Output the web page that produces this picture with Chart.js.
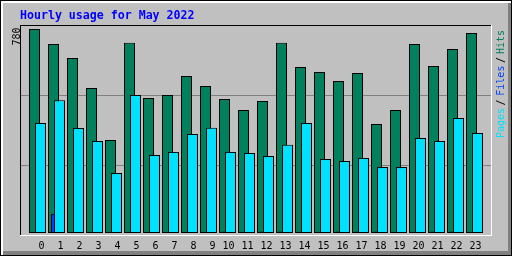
<!DOCTYPE html>
<html>
<head>
<meta charset="utf-8">
<script src="https://cdn.jsdelivr.net/npm/chart.js@4.4.1/dist/chart.umd.min.js"></script>
<style>
html, body { margin: 0; padding: 0; background: #C0C0C0; }
canvas { display: block; }
</style>
</head>
<body>
<canvas id="c" width="512" height="256"></canvas>
<script>
// ---- data ----
const chartTitle = 'Hourly usage for May 2022';
const hours = ['0','1','2','3','4','5','6','7','8','9','10','11','12','13','14','15','16','17','18','19','20','21','22','23'];
const hits  = [780,723,669,554,356,727,516,528,600,562,512,470,505,727,635,616,581,612,417,470,723,639,704,765];
const files = [2,73,2,2,2,2,2,2,2,2,6,2,6,6,2,2,6,6,6,2,2,6,6,2];
const pages = [421,508,401,352,229,528,298,310,379,402,310,306,294,337,421,283,275,287,252,252,363,352,440,382];
const yTickLabels = ['780'];
const seriesNames = ['Pages', 'Files', 'Hits'];

// ---- style / layout ----
const COLORS = { bg: '#C0C0C0', hits: '#00805C', files: '#0040FF', pages: '#00E0FF', grid: '#808080', dark: '#808080', title: '#0000FF' };
const PLOT = { left: 20, right: 492, top: 25, bottom: 236 };
const BAR_BASE_PX = 233, BAR_TOP_PX = 29;   // where 0 and the max label sit
const PX_PER_HOUR = 19, FIRST_CENTER = 34.5, BAR_W = 11;
const OFFSETS = { hits: 0, files: 3, pages: 6 };

const yMax = Number(yTickLabels[0]);
const pxPerUnit = (BAR_BASE_PX - BAR_TOP_PX) / yMax;
const yMin = -(PLOT.bottom - BAR_BASE_PX) / pxPerUnit;
const yTop = yMax + (BAR_TOP_PX - PLOT.top) / pxPerUnit;
const hourSpan = (PLOT.right - PLOT.left) / PX_PER_HOUR;
function xRange(off) {
  const min = -(FIRST_CENTER + off - PLOT.left) / PX_PER_HOUR;
  return { min, max: min + hourSpan };
}

const monoSmall = { family: "'DejaVu Sans Mono', monospace", size: 10 };

function barSet(label, values, color, axisId) {
  return {
    label,
    data: values.map((v, i) => ({ x: i, y: v })),
    backgroundColor: color,
    borderColor: '#000000',
    borderWidth: 1,
    borderSkipped: false,
    inflateAmount: 0,
    grouped: false,
    barThickness: BAR_W,
    maxBarThickness: BAR_W,
    xAxisID: axisId,
  };
}

const framePlugin = {
  id: 'frame',
  beforeDraw(chart) {
    const ctx = chart.ctx, W = chart.width, H = chart.height;
    ctx.save();
    ctx.fillStyle = COLORS.bg;
    ctx.fillRect(0, 0, W, H);
    ctx.fillStyle = '#FFFFFF';
    ctx.fillRect(1, 1, W - 2, 2);
    ctx.fillRect(1, 1, 2, H - 2);
    ctx.fillStyle = COLORS.dark;
    ctx.fillRect(3, H - 5, W - 4, 4);
    ctx.fillRect(W - 4, 3, 3, H - 4);
    ctx.strokeStyle = '#000000';
    ctx.lineWidth = 1;
    ctx.strokeRect(0.5, 0.5, W - 1, H - 1);
    ctx.restore();
  },
  beforeDatasetsDraw(chart) {
    const ctx = chart.ctx, a = chart.chartArea;
    ctx.save();
    ctx.fillStyle = '#000000';
    ctx.fillRect(a.left, a.top, a.right - a.left, 1);
    ctx.fillRect(a.left, a.top, 1, a.bottom - a.top);
    ctx.fillStyle = '#FFFFFF';
    ctx.fillRect(a.left, a.bottom - 1, a.right - a.left, 1);
    ctx.fillRect(a.right - 1, a.top, 1, a.bottom - a.top);
    ctx.restore();
  },
  afterDraw(chart) {
    const ctx = chart.ctx;
    const up = (text, x, y, color, align) => {
      ctx.save();
      ctx.translate(x, y);
      ctx.rotate(-Math.PI / 2);
      ctx.font = "10px 'DejaVu Sans Mono', monospace";
      ctx.fillStyle = color;
      ctx.textAlign = align;
      ctx.textBaseline = 'alphabetic';
      ctx.fillText(text, 0, 0);
      ctx.restore();
    };
    up(yTickLabels[0], 19.5, 27.5, '#000000', 'right');
    const lx = 503.5;
    up(seriesNames[0], lx, 138, COLORS.pages, 'left');
    up('/', lx, 105.5, '#000000', 'left');
    up(seriesNames[1], lx, 95.7, COLORS.files, 'left');
    up('/', lx, 63, '#000000', 'left');
    up(seriesNames[2], lx, 54, COLORS.hits, 'left');
  }
};

const hiddenX = (off) => Object.assign({ type: 'linear', display: false, position: 'bottom', offset: false, grid: { offset: false } }, xRange(off));

new Chart(document.getElementById('c'), {
  type: 'bar',
  data: {
    datasets: [
      barSet(seriesNames[0], pages, COLORS.pages, 'xPages'),
      barSet(seriesNames[1], files, COLORS.files, 'xFiles'),
      barSet(seriesNames[2], hits, COLORS.hits, 'x'),
    ]
  },
  options: {
    responsive: false,
    animation: false,
    events: [],
    layout: { padding: { left: PLOT.left, right: 512 - PLOT.right, top: 0, bottom: 0 } },
    plugins: {
      legend: { display: false },
      tooltip: { enabled: false },
      title: {
        display: true,
        text: chartTitle,
        align: 'start',
        color: COLORS.title,
        font: { family: "'DejaVu Sans Mono', monospace", size: 11.6, weight: 'bold', lineHeight: 1.2 },
        padding: { top: 8.6, bottom: 25 - 8.6 - 11.6 * 1.2 }
      }
    },
    scales: {
      x: Object.assign({
        type: 'linear',
        position: 'bottom',
        offset: false,
        grid: { display: false, drawTicks: false, offset: false },
        border: { display: false },
        afterBuildTicks: (scale) => { scale.ticks = hours.map((h, i) => ({ value: i })); },
        ticks: {
          autoSkip: false,
          maxRotation: 0,
          minRotation: 0,
          align: 'end',
          labelOffset: 10,
          padding: 4,
          color: '#000000',
          font: monoSmall,
          callback: (value, index) => hours[index]
        }
      }, xRange(OFFSETS.hits)),
      xFiles: hiddenX(OFFSETS.files),
      xPages: hiddenX(OFFSETS.pages),
      y: {
        type: 'linear',
        position: 'left',
        min: yMin,
        max: yTop,
        afterBuildTicks: (scale) => {
          const r = scale.max - scale.min;
          scale.ticks = [{ value: scale.min + r / 3 }, { value: scale.min + 2 * r / 3 }];
        },
        grid: { color: COLORS.grid, lineWidth: 1, drawTicks: false },
        border: { display: false },
        ticks: { display: false }
      }
    }
  },
  plugins: [framePlugin]
});
</script>
</body>
</html>
